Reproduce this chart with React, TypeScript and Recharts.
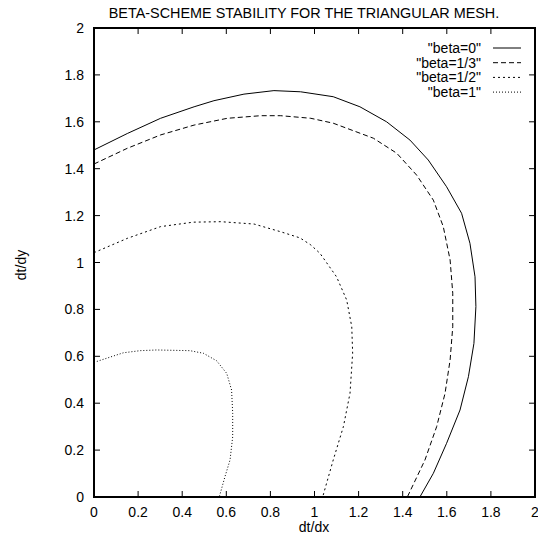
import React from 'react';
import { LineChart, Line, XAxis, YAxis, Legend, ReferenceArea, ReferenceLine } from 'recharts';

const beta0 = [
  { x: 0, y: 1.48 }, { x: 0.151, y: 1.55 }, { x: 0.302, y: 1.615 }, { x: 0.454, y: 1.664 },
  { x: 0.544, y: 1.69 }, { x: 0.68, y: 1.718 }, { x: 0.816, y: 1.733 }, { x: 0.937, y: 1.728 },
  { x: 1.085, y: 1.707 }, { x: 1.206, y: 1.664 }, { x: 1.327, y: 1.6 }, { x: 1.433, y: 1.522 },
  { x: 1.516, y: 1.437 }, { x: 1.599, y: 1.323 }, { x: 1.667, y: 1.21 }, { x: 1.705, y: 1.082 },
  { x: 1.728, y: 0.939 }, { x: 1.732, y: 0.812 }, { x: 1.723, y: 0.655 }, { x: 1.698, y: 0.513 },
  { x: 1.66, y: 0.371 }, { x: 1.599, y: 0.229 }, { x: 1.539, y: 0.101 }, { x: 1.478, y: 0 },
];

const beta13 = [
  { x: 0, y: 1.42 }, { x: 0.151, y: 1.487 }, { x: 0.302, y: 1.544 }, { x: 0.454, y: 1.586 },
  { x: 0.605, y: 1.615 }, { x: 0.756, y: 1.626 }, { x: 0.847, y: 1.626 }, { x: 0.983, y: 1.615 },
  { x: 1.085, y: 1.594 }, { x: 1.267, y: 1.53 }, { x: 1.373, y: 1.466 }, { x: 1.463, y: 1.373 },
  { x: 1.539, y: 1.266 }, { x: 1.584, y: 1.153 }, { x: 1.615, y: 1.011 }, { x: 1.627, y: 0.869 },
  { x: 1.627, y: 0.726 }, { x: 1.615, y: 0.584 }, { x: 1.592, y: 0.442 }, { x: 1.554, y: 0.3 },
  { x: 1.501, y: 0.158 }, { x: 1.421, y: 0 },
];

const beta12 = [
  { x: 0, y: 1.042 }, { x: 0.151, y: 1.103 }, { x: 0.302, y: 1.153 }, { x: 0.45, y: 1.172 },
  { x: 0.575, y: 1.174 }, { x: 0.726, y: 1.164 }, { x: 0.847, y: 1.131 }, { x: 0.934, y: 1.105 },
  { x: 0.983, y: 1.075 }, { x: 1.025, y: 1.039 }, { x: 1.1, y: 0.939 }, { x: 1.146, y: 0.84 },
  { x: 1.169, y: 0.726 }, { x: 1.173, y: 0.613 }, { x: 1.161, y: 0.442 }, { x: 1.131, y: 0.3 },
  { x: 1.085, y: 0.158 }, { x: 1.037, y: 0 },
];

const beta1 = [
  { x: 0, y: 0.574 }, { x: 0.133, y: 0.615 }, { x: 0.209, y: 0.624 }, { x: 0.284, y: 0.627 },
  { x: 0.435, y: 0.624 }, { x: 0.496, y: 0.613 }, { x: 0.556, y: 0.581 }, { x: 0.602, y: 0.527 },
  { x: 0.624, y: 0.456 }, { x: 0.629, y: 0.357 }, { x: 0.629, y: 0.257 }, { x: 0.617, y: 0.158 },
  { x: 0.594, y: 0.087 }, { x: 0.568, y: 0 },
];

const xTicks = [0, 0.2, 0.4, 0.6, 0.8, 1, 1.2, 1.4, 1.6, 1.8, 2];
const yTicks = [0, 0.2, 0.4, 0.6, 0.8, 1, 1.2, 1.4, 1.6, 1.8, 2];
const X_MIN = 0;
const X_MAX = 2;
const Y_MIN = 0;
const Y_MAX = 2;

const seriesNames = ['"beta=0"', '"beta=1/3"', '"beta=1/2"', '"beta=1"'];
const seriesData = [beta0, beta13, beta12, beta1];
const seriesDash = [undefined, '5 3', '2 3', '1 2'];

const title = 'BETA-SCHEME STABILITY FOR THE TRIANGULAR MESH.';
const xLabel = 'dt/dx';
const yLabel = 'dt/dy';

const FONT = '"Liberation Sans", Arial, Helvetica, sans-serif';
const TICK = 6;
// mirrored tick length on the top / right border, in data units (~6 px)
const TICK_DX = 0.027;
const TICK_DY = 0.0256;

const BottomTick = (props: any) => {
  const { x, y, payload } = props;
  return (
    <g>
      <path d={`M${x},${y}V${y - TICK}`} stroke="#000" strokeWidth={1} fill="none" />
      <text x={x} y={y + 20} textAnchor="middle" fontSize={14} fontFamily={FONT} fill="#000">
        {String(payload.value)}
      </text>
    </g>
  );
};

const LeftTick = (props: any) => {
  const { x, y, payload } = props;
  return (
    <g>
      <path d={`M${x},${y}H${x + TICK}`} stroke="#000" strokeWidth={1} fill="none" />
      <text x={x - 10} y={y + 5} textAnchor="end" fontSize={14} fontFamily={FONT} fill="#000">
        {String(payload.value)}
      </text>
    </g>
  );
};

const LegendContent = () => (
  <svg width={538} height={110} style={{ position: 'absolute', left: 0, top: 0 }}>
    {seriesNames.map((n, i) => {
      const cy = 48 + i * 14.7;
      return (
        <g key={n}>
          <text x={481} y={cy + 5} textAnchor="end" fontSize={14} fontFamily={FONT} fill="#000">
            {n}
          </text>
          <line x1={493} x2={521} y1={cy} y2={cy} stroke="#000" strokeWidth={1} strokeDasharray={seriesDash[i]} />
        </g>
      );
    })}
  </svg>
);

export default function App() {
  return (
    <div style={{ position: 'absolute', left: 0, top: 0, width: 538, height: 538, background: '#fff' }}>
      <LineChart width={538} height={538} margin={{ top: 28, right: 3, bottom: 0, left: 0 }}>
        <XAxis
          dataKey="x"
          type="number"
          domain={[X_MIN, X_MAX]}
          ticks={xTicks}
          allowDataOverflow
          height={41}
          tickSize={0}
          tickMargin={0}
          tickLine={false}
          tick={BottomTick}
          axisLine={false}
          interval={0}
        />
        <YAxis
          type="number"
          domain={[Y_MIN, Y_MAX]}
          ticks={yTicks}
          allowDataOverflow
          width={94}
          tickSize={0}
          tickMargin={0}
          tickLine={false}
          tick={LeftTick}
          axisLine={false}
          interval={0}
        />
        <ReferenceArea
          x1={X_MIN}
          x2={X_MAX}
          y1={Y_MIN}
          y2={Y_MAX}
          fill="none"
          fillOpacity={0}
          stroke="#000"
          strokeWidth={2}
          strokeOpacity={1}
          ifOverflow="visible"
        />
        {xTicks.map((t) => (
          <ReferenceLine
            key={'tt' + t}
            segment={[{ x: t, y: Y_MAX }, { x: t, y: Y_MAX - TICK_DY }]}
            stroke="#000"
            strokeWidth={1}
            ifOverflow="visible"
          />
        ))}
        {yTicks.map((t) => (
          <ReferenceLine
            key={'rt' + t}
            segment={[{ x: X_MAX, y: t }, { x: X_MAX - TICK_DX, y: t }]}
            stroke="#000"
            strokeWidth={1}
            ifOverflow="visible"
          />
        ))}
        <Legend
          layout="vertical"
          align="center"
          verticalAlign="middle"
          content={LegendContent}
          wrapperStyle={{ left: 0, top: 0, width: 538, height: 110 }}
        />
        {seriesData.map((d, i) => (
          <Line
            key={seriesNames[i]}
            name={seriesNames[i]}
            data={d}
            dataKey="y"
            type="linear"
            stroke="#000"
            strokeWidth={1}
            strokeDasharray={seriesDash[i]}
            dot={false}
            activeDot={false}
            isAnimationActive={false}
          />
        ))}
      </LineChart>
      <div
        style={{
          position: 'absolute', left: 0, top: 5, width: 608, textAlign: 'center',
          fontFamily: FONT, fontSize: 14.4, lineHeight: '16px', color: '#000', whiteSpace: 'nowrap',
        }}
      >
        {title}
      </div>
      <div
        style={{
          position: 'absolute', left: 214, top: 519, width: 200, textAlign: 'center',
          fontFamily: FONT, fontSize: 14, lineHeight: '16px', color: '#000',
        }}
      >
        {xLabel}
      </div>
      <div
        style={{
          position: 'absolute', left: 21 - 50, top: 265 - 8, width: 100, textAlign: 'center',
          fontFamily: FONT, fontSize: 14, lineHeight: '16px', color: '#000',
          transform: 'rotate(-90deg)',
        }}
      >
        {yLabel}
      </div>
    </div>
  );
}
